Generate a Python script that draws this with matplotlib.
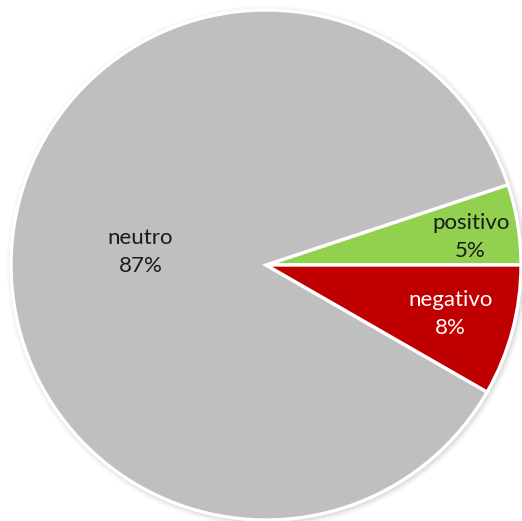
import numpy as np
import matplotlib.pyplot as plt
from matplotlib.patches import Circle

labels = ["positivo", "neutro", "negativo"]
values = [5.1, 86.6, 8.3]
colors = ["#92D050", "#BFBFBF", "#C00000"]
text_colors = ["#1a1a1a", "#1a1a1a", "white"]
# label placement (radius, angle in degrees) relative to pie centre
label_pos = [(0.81, 7.8), (0.495, 174.0), (0.75, -15.0)]

fig = plt.figure(figsize=(5.22, 5.21), dpi=100)
ax = fig.add_axes([0, 0, 1, 1])

r_px = 255
cx, cy = 266, 265

# soft shadow round the pie
for k, a in [(1.022, 0.05), (1.014, 0.08), (1.007, 0.12)]:
    ax.add_patch(Circle((0.006, -0.006), k, color="#808080", alpha=a, lw=0, zorder=0))

ax.pie(
    values,
    colors=colors,
    startangle=0,
    counterclock=True,
    radius=1.0,
    wedgeprops=dict(edgecolor="white", linewidth=2.4),
)
ax.set_xlim(-cx / r_px, (522 - cx) / r_px)
ax.set_ylim(-(521 - cy) / r_px, cy / r_px)
ax.set_aspect("equal")
ax.axis("off")

total = sum(values)
for lab, v, tc, (r, ang) in zip(labels, values, text_colors, label_pos):
    t = np.deg2rad(ang)
    ax.text(
        r * np.cos(t), r * np.sin(t),
        f"{lab}\n{round(100 * v / total)}%",
        ha="center", va="center", color=tc, zorder=5,
        fontsize=16, family=["Lato", "DejaVu Sans"], linespacing=1.5,
    )

fig.savefig("out.png", dpi=100)
